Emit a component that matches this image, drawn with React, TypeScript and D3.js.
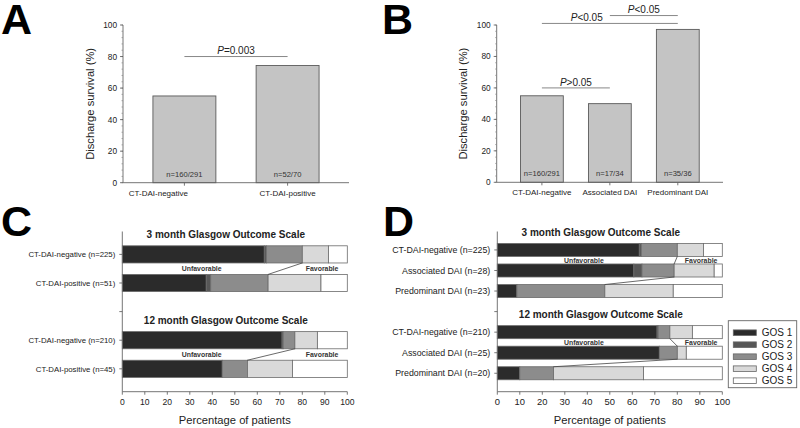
import React from "react";
import * as d3 from "d3";

const FONT = "'Liberation Sans', Arial, Helvetica, sans-serif";

// ---------- Panel A / B data ----------
const groupsA = ["CT-DAI-negative", "CT-DAI-positive"];
const survivalA = [55.0, 74.3];
const countsA = ["n=160/291", "n=52/70"];

const groupsB = ["CT-DAI-negative", "Associated DAI", "Predominant DAI"];
const survivalB = [55.0, 50.0, 97.2];
const countsB = ["n=160/291", "n=17/34", "n=35/36"];

const survivalTicks = [0, 20, 40, 60, 80, 100];

// significance brackets: [from, to, level, relation, label position fraction]
const sigA = [{ from: 0, to: 1, level: 80, rel: "=0.003", frac: 0.5 }];
const sigB = [
  { from: 0, to: 1, level: 60, rel: ">0.05", frac: 0.5 },
  { from: 0, to: 2, level: 101, rel: "<0.05", frac: 0.33 },
  { from: 1, to: 2, level: 106, rel: "<0.05", frac: 0.5 },
];

// ---------- Panel C / D data ----------
const gosKeys = ["GOS 1", "GOS 2", "GOS 3", "GOS 4", "GOS 5"];
const gosColors = ["#2b2b2b", "#575757", "#8c8c8c", "#d9d9d9", "#ffffff"];
const titles = ["3 month Glasgow Outcome Scale", "12 month Glasgow Outcome Scale"];
const pctTicks = [0, 10, 20, 30, 40, 50, 60, 70, 80, 90, 100];

const labelsC3 = ["CT-DAI-negative (n=225)", "CT-DAI-positive (n=51)"];
const gosC3 = [
  [63.1, 0.9, 16.0, 11.6, 8.4],
  [37.3, 2.0, 25.5, 23.5, 11.7],
];
const labelsC12 = ["CT-DAI-negative (n=210)", "CT-DAI-positive (n=45)"];
const gosC12 = [
  [71.0, 0.5, 5.2, 10.0, 13.3],
  [44.4, 0.0, 11.2, 20.0, 24.4],
];

const labelsD3 = ["CT-DAI-negative (n=225)", "Associated DAI (n=28)", "Predominant DAI (n=23)"];
const gosD3 = [
  [63.1, 0.9, 16.0, 11.6, 8.4],
  [60.7, 3.6, 14.3, 17.8, 3.6],
  [8.7, 0.0, 39.1, 30.4, 21.8],
];
const labelsD12 = ["CT-DAI-negative (n=210)", "Associated DAI (n=25)", "Predominant DAI (n=20)"];
const gosD12 = [
  [71.0, 0.5, 5.2, 10.0, 13.3],
  [72.0, 0.0, 8.0, 4.0, 16.0],
  [10.0, 0.0, 15.0, 40.0, 35.0],
];

// ---------- Bar panel ----------
function BarPanel(props: any) {
  const { cats, values, counts, sig, x0, x1, yTop, yBottom, padIn, padOut, labelDx, labelX } = props;
  const y = d3.scaleLinear().domain([0, 100]).range([yBottom, yTop]);
  const x = d3.scaleBand().domain(cats).range([x0, x1]).paddingInner(padIn).paddingOuter(padOut);
  const bw = x.bandwidth();
  const cx = (c: string) => (x(c) as number) + bw / 2;
  const minor = d3.range(0, 101, 4);
  return (
    <g>
      {cats.map((c: string, i: number) => (
        <g key={c}>
          <rect x={x(c)} y={y(values[i])} width={bw} height={y(0) - y(values[i])}
            fill="#c4c4c4" stroke="#5a5a5a" strokeWidth={0.9} />
          <text x={cx(c)} y={y(0) - 6} fontSize={7.6} textAnchor="middle" fill="#333">{counts[i]}</text>
          <line x1={cx(c)} x2={cx(c)} y1={y(0)} y2={y(0) + 3} stroke="#555" strokeWidth={0.8} />
          <text x={cx(c) + (labelDx[i] || 0)} y={y(0) + 13} fontSize={8} textAnchor="middle" fill="#222">{c}</text>
        </g>
      ))}
      <line x1={x0} x2={x0} y1={y(100)} y2={y(0)} stroke="#666" strokeWidth={0.9} />
      <line x1={x0} x2={x1} y1={y(0)} y2={y(0)} stroke="#666" strokeWidth={0.9} />
      {minor.map((v) => (
        <line key={"m" + v} x1={x0 - 1.5} x2={x0} y1={y(v)} y2={y(v)} stroke="#888" strokeWidth={0.7} />
      ))}
      {survivalTicks.map((v) => (
        <g key={v}>
          <line x1={x0 - 3} x2={x0} y1={y(v)} y2={y(v)} stroke="#555" strokeWidth={0.8} />
          <text x={x0 - 6} y={y(v) + 3} fontSize={8.3} textAnchor="end" fill="#222">{v}</text>
        </g>
      ))}
      <text transform={`translate(${labelX},${(y(0) + y(100)) / 2}) rotate(-90)`} fontSize={11.2}
        textAnchor="middle" fill="#222">Discharge survival (%)</text>
      {sig.map((s: any, i: number) => {
        const a = cx(cats[s.from]);
        const b = cx(cats[s.to]);
        return (
          <g key={i}>
            <line x1={a} x2={b} y1={y(s.level)} y2={y(s.level)} stroke="#888" strokeWidth={1} />
            <text x={a + (b - a) * s.frac} y={y(s.level) - 2.2} fontSize={10} textAnchor="middle" fill="#222">
              <tspan fontStyle="italic">P</tspan>{s.rel}
            </text>
          </g>
        );
      })}
    </g>
  );
}

// ---------- Stacked horizontal panel ----------
function buildRows(prefix: string, l3: string[], v3: number[][], l12: string[], v12: number[][]) {
  const rows: any[] = [];
  l3.forEach((l, i) => rows.push({ key: `${prefix}3-${i}`, label: l, values: v3[i], group: 0 }));
  rows.push({ key: `${prefix}gap`, label: "", values: null, group: -1 });
  l12.forEach((l, i) => rows.push({ key: `${prefix}12-${i}`, label: l, values: v12[i], group: 1 }));
  return rows;
}

function StackPanel(props: any) {
  const { rows, x0, x1, yTop, yBottom, padIn, padOut, labelSize, tickSize, unfavPct, favPct, titlePct } = props;
  const x = d3.scaleLinear().domain([0, 100]).range([x0, x1]);
  const y = d3.scaleBand().domain(rows.map((r: any) => r.key)).range([yTop, yBottom])
    .paddingInner(padIn).paddingOuter(padOut);
  const bw = y.bandwidth();
  const dataRows = rows.filter((r: any) => r.values);
  const stackData = dataRows.map((r: any) => {
    const o: any = { key: r.key };
    gosKeys.forEach((k, i) => (o[k] = r.values[i]));
    return o;
  });
  const series = d3.stack().keys(gosKeys)(stackData);
  const unfav = (r: any) => r.values[0] + r.values[1] + r.values[2];
  const groups = [0, 1].map((g) => dataRows.filter((r: any) => r.group === g));
  return (
    <g>
      {series.map((s: any, si: number) =>
        s.map((d: any, di: number) => {
          const w = x(d[1]) - x(d[0]);
          if (w <= 0) return null;
          return (
            <rect key={si + "-" + di} x={x(d[0])} y={y(stackData[di].key)} width={w} height={bw}
              fill={gosColors[si]} stroke="#6a6a6a" strokeWidth={0.8} />
          );
        })
      )}
      {groups.map((g: any[], gi: number) => (
        <g key={gi}>
          <text x={x(titlePct)} y={(y(g[0].key) as number) - 7.5} fontSize={10} fontWeight="bold"
            textAnchor="middle" fill="#222">{titles[gi]}</text>
          {g.slice(1).map((r: any, i: number) => {
            const prev = g[i];
            return (
              <line key={r.key} x1={x(unfav(prev))} y1={(y(prev.key) as number) + bw} x2={x(unfav(r))}
                y2={y(r.key)} stroke="#444" strokeWidth={0.8} />
            );
          })}
          {(() => {
            const ym = ((y(g[0].key) as number) + bw + (y(g[1].key) as number)) / 2 + 2.4;
            return (
              <g>
                <text x={x(unfavPct)} y={ym} fontSize={6.9} fontWeight="bold" textAnchor="middle" fill="#333">Unfavorable</text>
                <text x={x(favPct)} y={ym} fontSize={6.9} fontWeight="bold" textAnchor="middle" fill="#333">Favorable</text>
              </g>
            );
          })()}
        </g>
      ))}
      <line x1={x0} x2={x0} y1={yTop} y2={yBottom} stroke="#666" strokeWidth={0.9} />
      <line x1={x0} x2={x1} y1={yBottom} y2={yBottom} stroke="#666" strokeWidth={0.9} />
      {rows.map((r: any) => {
        const c = (y(r.key) as number) + bw / 2;
        return (
          <g key={"t" + r.key}>
            <line x1={x0 - 3} x2={x0} y1={c} y2={c} stroke="#555" strokeWidth={0.8} />
            {r.label && (
              <text x={x0 - 7} y={c + labelSize * 0.35} fontSize={labelSize} textAnchor="end" fill="#222">{r.label}</text>
            )}
          </g>
        );
      })}
      {pctTicks.map((v) => (
        <g key={"x" + v}>
          <line x1={x(v)} x2={x(v)} y1={yBottom} y2={yBottom + 3} stroke="#555" strokeWidth={0.8} />
          <text x={x(v)} y={yBottom + 13.5} fontSize={tickSize} textAnchor="middle" fill="#222">{v}</text>
        </g>
      ))}
      <text x={(x0 + x1) / 2} y={yBottom + 32.5} fontSize={11.2} textAnchor="middle" fill="#222">Percentage of patients</text>
    </g>
  );
}

function Legend(props: any) {
  const { x0, y0, w, h } = props;
  const ly = d3.scalePoint().domain(gosKeys).range([y0 + 12, y0 + h - 7]);
  return (
    <g>
      <rect x={x0} y={y0} width={w} height={h} fill="#fff" stroke="#666" strokeWidth={0.9} />
      {gosKeys.map((k, i) => (
        <g key={k}>
          <rect x={x0 + 5} y={(ly(k) as number) - 2.8} width={23} height={5.6} fill={gosColors[i]}
            stroke="#666" strokeWidth={0.8} />
          <text x={x0 + 33.5} y={(ly(k) as number) + 3.6} fontSize={10} fill="#222">{k}</text>
        </g>
      ))}
    </g>
  );
}

export default function App() {
  const rowsC = buildRows("c", labelsC3, gosC3, labelsC12, gosC12);
  const rowsD = buildRows("d", labelsD3, gosD3, labelsD12, gosD12);
  const letter = { fontSize: 43, fontWeight: 900 as any, fill: "#000" };
  return (
    <svg width={800} height={428} style={{ position: "absolute", left: 0, top: 0, background: "#fff" }}
      fontFamily={FONT}>
      <rect x={0} y={0} width={800} height={428} fill="#fff" />
      <text x={1} y={34} {...letter}>A</text>
      <text x={382} y={34} {...letter}>B</text>
      <text x={1} y={236} {...letter}>C</text>
      <text x={383} y={236} {...letter}>D</text>

      <BarPanel cats={groupsA} values={survivalA} counts={countsA} sig={sigA}
        x0={123} x1={349} yTop={25} yBottom={182.7} padIn={0.39} padOut={0.29}
        labelDx={[-26, 0]} labelX={94} />
      <BarPanel cats={groupsB} values={survivalB} counts={countsB} sig={sigB}
        x0={496.7} x1={723} yTop={25} yBottom={182.3} padIn={0.37} padOut={0.35}
        labelDx={[0, 0, 0]} labelX={467} />

      <StackPanel rows={rowsC} x0={122.3} x1={347.3} yTop={231.5} yBottom={391.7}
        padIn={0.4} padOut={0.5} labelSize={7.8} tickSize={8.6}
        unfavPct={35.3} favPct={88.8} titlePct={46} />
      <StackPanel rows={rowsD} x0={497.3} x1={722.3} yTop={231.5} yBottom={391.7}
        padIn={0.366} padOut={0.58} labelSize={8.8} tickSize={9.4}
        unfavPct={38.5} favPct={90.6} titlePct={46} />
      <Legend x0={728.3} y0={320.7} w={68.4} h={67} />
    </svg>
  );
}
